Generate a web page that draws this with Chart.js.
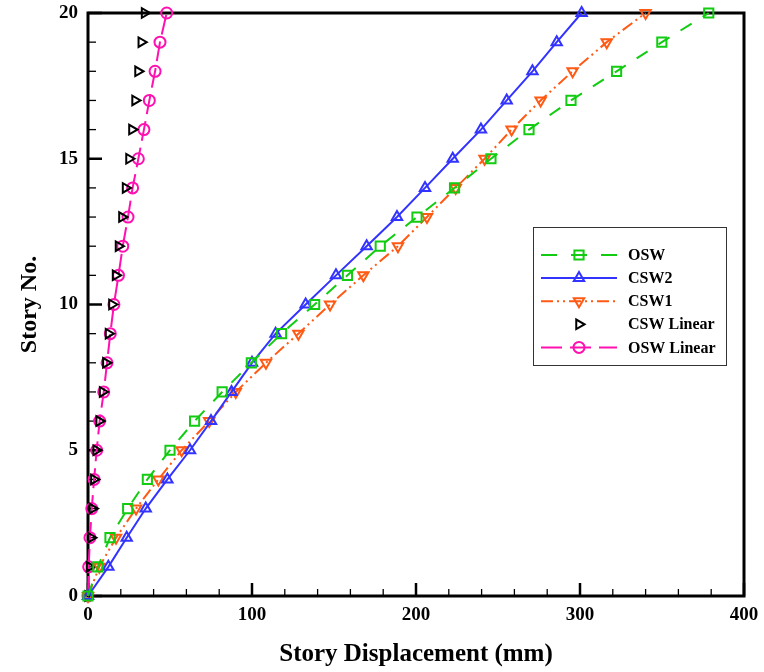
<!DOCTYPE html>
<html>
<head>
<meta charset="utf-8">
<script src="https://cdn.jsdelivr.net/npm/chart.js@4.4.0/dist/chart.umd.min.js"></script>
<style>
  html, body { margin: 0; padding: 0; background: #fff; }
</style>
</head>
<body>
<canvas id="chart" width="764" height="672"></canvas>
<script>
// story numbers (y) and displacement in mm (x) per series
const stories = [0, 1, 2, 3, 4, 5, 6, 7, 8, 9, 10, 11, 12, 13, 14, 15, 16, 17, 18, 19, 20];
const osw = [0, 6, 13.4, 24.2, 36.2, 50, 65, 81.8, 99.6, 118, 138.2, 158.2, 178.2, 200.6, 223.5, 245.7, 268.9, 294.5, 322.3, 349.9, 378.5];
const csw2 = [0, 12.4, 23.6, 35.2, 48.4, 62.2, 75, 87.5, 100, 114.4, 132.7, 151.2, 169.9, 188.4, 205.5, 222.4, 239.6, 255.3, 271, 285.8, 301];
const csw1 = [0, 6.9, 17.1, 29.3, 42.9, 57.1, 73.9, 90.1, 108.5, 128.3, 147.6, 167.9, 189, 206.7, 224.2, 241.8, 258.3, 276, 295.5, 316.3, 340];
const cswLinear = [0, 0.9, 1.8, 2.7, 3.6, 5.0, 6.8, 8.9, 10.9, 12.5, 14.6, 16.8, 18.6, 20.7, 22.9, 25, 26.8, 28.7, 30.5, 32.5, 34.5];
const oswLinear = [0, 0.4, 1.2, 2.3, 3.7, 5.3, 7.1, 9.6, 11.6, 13.6, 15.8, 18.6, 21.2, 24.4, 27.2, 30.7, 34.1, 37.4, 40.9, 43.9, 48];

const seriesNames = ['OSW', 'CSW2', 'CSW1', 'CSW Linear', 'OSW Linear'];

const xMin = 0, xMax = 400, xMajor = 100, xMinor = 20;
const yMin = 0, yMax = 20, yMajor = 5, yMinor = 1;

const serif = "'Liberation Serif', 'Times New Roman', serif";

function pts(arr) {
  return arr.map((v, i) => ({ x: v, y: stories[i] }));
}

// ticks pointing inwards + thick box around the plot
const frameTicks = {
  id: 'frameTicks',
  beforeDatasetsDraw(chart) {
    const { ctx, chartArea: a, scales: { x, y } } = chart;
    ctx.save();
    ctx.strokeStyle = '#000';
    for (let v = xMin; v <= xMax; v += xMinor) {
      const px = x.getPixelForValue(v);
      const major = v % xMajor === 0;
      ctx.lineWidth = major ? 2.5 : 1.3;
      ctx.beginPath();
      ctx.moveTo(px, a.bottom);
      ctx.lineTo(px, a.bottom - (major ? 13 : 7));
      ctx.stroke();
    }
    for (let v = yMin; v <= yMax; v += yMinor) {
      const py = y.getPixelForValue(v);
      const major = v % yMajor === 0;
      ctx.lineWidth = major ? 2.5 : 1.3;
      ctx.beginPath();
      ctx.moveTo(a.left, py);
      ctx.lineTo(a.left + (major ? 14 : 8), py);
      ctx.stroke();
    }
    ctx.lineWidth = 3;
    ctx.strokeRect(a.left, a.top, a.right - a.left, a.bottom - a.top);
    ctx.restore();
  }
};

// legend box like the original: line sample with the marker in the middle
const boxLegend = {
  id: 'boxLegend',
  afterDraw(chart) {
    const ctx = chart.ctx;
    const bx = 533, by = 227, bw = 193, bh = 138;
    ctx.save();
    ctx.fillStyle = '#fff';
    ctx.fillRect(bx, by, bw, bh);
    ctx.strokeStyle = '#333';
    ctx.lineWidth = 1;
    ctx.strokeRect(bx + 0.5, by + 0.5, bw, bh);
    chart.data.datasets.forEach((ds, i) => {
      const cy = 255 + i * 23.1;
      if (ds.showLine !== false) {
        ctx.strokeStyle = ds.borderColor;
        ctx.lineWidth = ds.borderWidth;
        ctx.setLineDash(ds.legendDash || ds.borderDash || []);
        ctx.beginPath();
        ctx.moveTo(541, cy);
        ctx.lineTo(617, cy);
        ctx.stroke();
        ctx.setLineDash([]);
      }
      ctx.strokeStyle = ds.pointBorderColor;
      ctx.fillStyle = 'rgba(0,0,0,0)';
      Chart.helpers.drawPoint(ctx, {
        pointStyle: ds.pointStyle,
        rotation: ds.pointRotation || 0,
        radius: ds.pointRadius,
        borderWidth: ds.pointBorderWidth
      }, 579, cy);
      ctx.fillStyle = '#000';
      ctx.font = "bold 16px " + serif;
      ctx.textBaseline = 'middle';
      ctx.textAlign = 'left';
      ctx.fillText(ds.label, 628, cy + 1);
    });
    ctx.restore();
  }
};

function series(label, data, color, dash, style, rot, r, showLine, legendDash) {
  return {
    label: label,
    data: pts(data),
    borderColor: color,
    borderWidth: 2,
    borderDash: dash,
    legendDash: legendDash,
    showLine: showLine,
    pointStyle: style,
    pointRotation: rot,
    pointRadius: r,
    pointBorderColor: color,
    pointBackgroundColor: 'rgba(0,0,0,0)',
    pointBorderWidth: 2,
    tension: 0,
    clip: false
  };
}

new Chart(document.getElementById('chart'), {
  type: 'line',
  data: {
    datasets: [
      series(seriesNames[0], osw, '#11cc11', [13, 13], 'rect', 0, 6.5, true, [16, 14]),
      series(seriesNames[1], csw2, '#3333ff', [], 'triangle', 0, 6, true),
      series(seriesNames[2], csw1, '#ff5a14', [12, 4, 2, 4, 2, 4], 'triangle', 180, 6, true),
      series(seriesNames[3], cswLinear, '#000000', [], 'triangle', 90, 5.5, false),
      series(seriesNames[4], oswLinear, '#ff10b0', [20, 7], 'circle', 0, 5.5, true, [21, 8])
    ]
  },
  options: {
    responsive: false,
    animation: false,
    layout: { padding: { top: 13, right: 20, left: 0, bottom: 0 } },
    plugins: {
      legend: { display: false },
      tooltip: { enabled: false }
    },
    scales: {
      x: {
        type: 'linear',
        min: xMin,
        max: xMax,
        grid: { display: false, drawTicks: false },
        border: { display: false },
        ticks: {
          stepSize: xMajor,
          color: '#000',
          padding: 8,
          font: { family: serif, size: 19, weight: 'bold' }
        },
        title: {
          display: true,
          text: 'Story Displacement (mm)',
          color: '#000',
          font: { family: serif, size: 25, weight: 'bold' },
          padding: { top: 0, bottom: 2 }
        },
        afterFit(s) {
          s.height = 76;
          s.paddingLeft = 0;
          s.paddingRight = 0;
        }
      },
      y: {
        type: 'linear',
        min: yMin,
        max: yMax,
        grid: { display: false, drawTicks: false },
        border: { display: false },
        ticks: {
          stepSize: yMajor,
          color: '#000',
          padding: 10,
          font: { family: serif, size: 19, weight: 'bold' }
        },
        title: {
          display: true,
          text: 'Story No.',
          color: '#000',
          font: { family: serif, size: 24, weight: 'bold' },
          padding: { top: 15, bottom: 0 }
        },
        afterFit(s) {
          s.width = 88;
          s.paddingTop = 0;
          s.paddingBottom = 0;
        }
      }
    }
  },
  plugins: [frameTicks, boxLegend]
});
</script>
</body>
</html>
